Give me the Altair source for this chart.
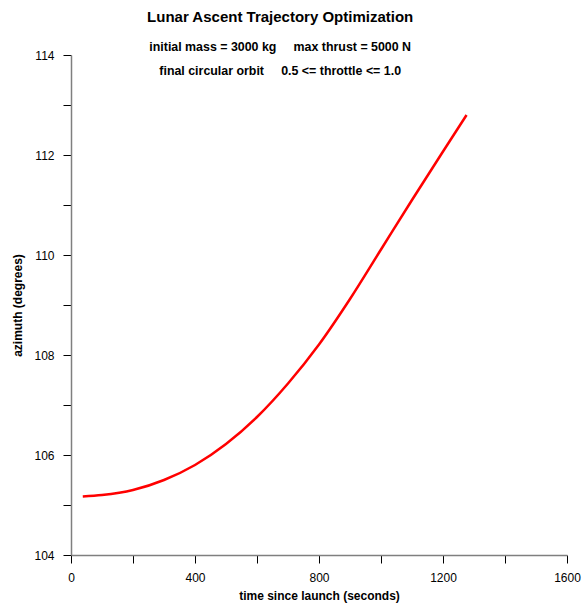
import altair as alt
import pandas as pd

time_s = [38, 100, 200, 300, 400, 500, 600, 700, 800, 900, 1000, 1100, 1200, 1276]
azimuth_deg = [105.17, 105.20, 105.30, 105.50, 105.80, 106.22, 106.76, 107.43, 108.21,
               109.12, 110.11, 111.10, 112.07, 112.80]

x_ticks = list(range(0, 1601, 200))
y_ticks = list(range(104, 115, 1))

df = pd.DataFrame({"t": time_s, "az": azimuth_deg})

NB = "\u00a0"
title = alt.TitleParams(
    text="Lunar Ascent Trajectory Optimization",
    subtitle=[
        "initial mass = 3000 kg" + NB * 5 + "max thrust = 5000 N",
        "final circular orbit" + NB * 5 + "0.5 <= throttle <= 1.0",
    ],
    font="Liberation Sans",
    fontSize=15,
    fontWeight="bold",
    color="black",
    subtitleFont="Liberation Sans",
    subtitleFontSize=12.4,
    subtitleFontWeight="bold",
    subtitleColor="black",
    subtitleLineHeight=24,
    subtitlePadding=16,
    anchor="middle",
    frame="bounds",
    offset=-28,
    dx=-16,
)

axis_common = dict(
    grid=False,
    domainColor="#7f7f7f",
    domainWidth=1.5,
    tickColor="black",
    tickSize=8,
    tickWidth=1,
    labelFont="Liberation Sans",
    labelFontSize=12,
    labelColor="black",
    labelFlush=False,
    titleFont="Liberation Sans",
    titleFontSize=12,
    titleFontWeight="bold",
    titleColor="black",
)

chart = (
    alt.Chart(df, title=title)
    .mark_line(color="red", strokeWidth=2.5, interpolate="monotone")
    .encode(
        x=alt.X(
            "t:Q",
            scale=alt.Scale(domain=[0, 1600], nice=False),
            axis=alt.Axis(
                values=x_ticks,
                labelExpr="datum.value % 400 == 0 ? datum.label : ''",
                format="d",
                title="time since launch (seconds)",
                labelPadding=9,
                titlePadding=7,
                **axis_common,
            ),
        ),
        y=alt.Y(
            "az:Q",
            scale=alt.Scale(domain=[104, 114], nice=False, zero=False),
            axis=alt.Axis(
                values=y_ticks,
                labelExpr="datum.value % 2 == 0 ? datum.label : ''",
                format="d",
                title="azimuth (degrees)",
                labelPadding=9,
                titlePadding=9,
                **axis_common,
            ),
        ),
    )
    .properties(
        width=496,
        height=500,
        autosize="none",
        padding={"left": 71, "top": 55, "right": 16, "bottom": 50},
    )
    .configure_view(stroke=None)
)

chart.save("out.html", embed_options={"renderer": "svg", "actions": False})
